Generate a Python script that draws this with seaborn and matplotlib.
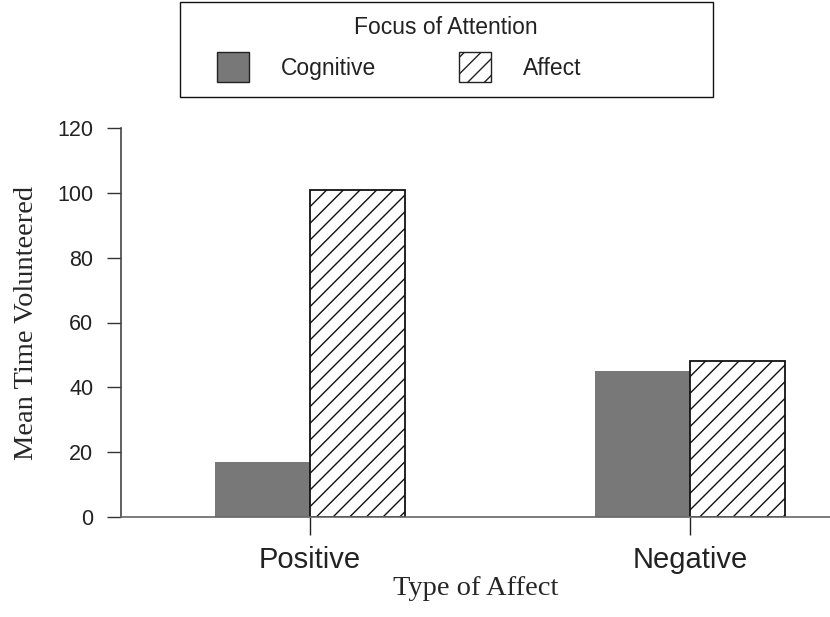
import matplotlib
matplotlib.use("Agg")
import matplotlib.pyplot as plt
import pandas as pd
import seaborn as sns
from matplotlib.patches import Patch, Rectangle

# values
affect_types = ["Positive", "Negative"]
focus_levels = ["Cognitive", "Affect"]
cognitive_means = [17, 45]
affect_means = [101, 48]

df = pd.DataFrame({
    "Type of Affect": affect_types * 2,
    "Focus": ["Cognitive"] * 2 + ["Affect"] * 2,
    "Mean Time Volunteered": cognitive_means + affect_means,
})

sns.set_style("ticks")
plt.rcParams["font.family"] = ["Liberation Sans", "DejaVu Sans"]
plt.rcParams["hatch.linewidth"] = 1.0

W, H = 830, 617
fig = plt.figure(figsize=(W / 100, H / 100), dpi=100)
ax = fig.add_axes([121 / W, (H - 517) / H, 1 - 121 / W, (517 - 128) / H])

sns.barplot(
    data=df, x="Type of Affect", y="Mean Time Volunteered", hue="Focus",
    order=affect_types, hue_order=focus_levels,
    palette={"Cognitive": "#787878", "Affect": "white"},
    width=0.5, ax=ax, legend=False, errorbar=None,
)

for bar in ax.patches:
    if bar.get_facecolor()[0] > 0.9:
        bar.set_hatch("//")
        bar.set_edgecolor("#111111")
        bar.set_linewidth(1.3)
    else:
        bar.set_edgecolor("none")
        bar.set_linewidth(0)

ax.set_ylim(0, 120)
ax.set_yticks([0, 20, 40, 60, 80, 100, 120])
ax.set_xlim(-189 / 380, 1 + 140 / 380)

serif = ["Liberation Serif", "DejaVu Serif"]
ax.set_ylabel("Mean Time Volunteered", family=serif, fontsize=20.5, labelpad=13)
ax.set_xlabel("Type of Affect", family=serif, fontsize=20.5, labelpad=1)

ax.tick_params(axis="y", labelsize=15.5, length=10, width=1, colors="#333333", pad=10)
ax.tick_params(axis="x", labelsize=21, length=13, width=1, colors="#222222", pad=8)
for lab in ax.get_yticklabels() + ax.get_xticklabels():
    lab.set_color("#222222")

sns.despine(ax=ax, top=True, right=True)
ax.spines["left"].set_color("#444444")
ax.spines["bottom"].set_color("#666666")
ax.spines["left"].set_linewidth(1.2)
ax.spines["bottom"].set_linewidth(1.2)

# legend: frame and title drawn separately so the box can be wider than its entries
fig.add_artist(Rectangle((180 / W, (H - 97) / H), 533 / W, 95 / H,
                         transform=fig.transFigure, fill=False,
                         edgecolor="#111111", linewidth=1.0))
fig.text(446 / W, 1 - 27 / H, "Focus of Attention", ha="center", va="center",
         fontsize=16.5, color="#222222")

handles = [
    Patch(facecolor="#787878", edgecolor="#222222", linewidth=1, label="Cognitive"),
    Patch(facecolor="white", edgecolor="#222222", linewidth=1, hatch="//", label="Affect"),
]
leg = fig.legend(
    handles=handles, ncol=2, loc="center left",
    bbox_to_anchor=(217 / W, 1 - 67 / H),
    fontsize=16.5, frameon=False, handlelength=1.4, handleheight=1.6,
    handletextpad=1.4, columnspacing=3.6, borderpad=0, borderaxespad=0,
)
for t in leg.get_texts():
    t.set_color("#222222")

fig.savefig("out.png", dpi=100)
